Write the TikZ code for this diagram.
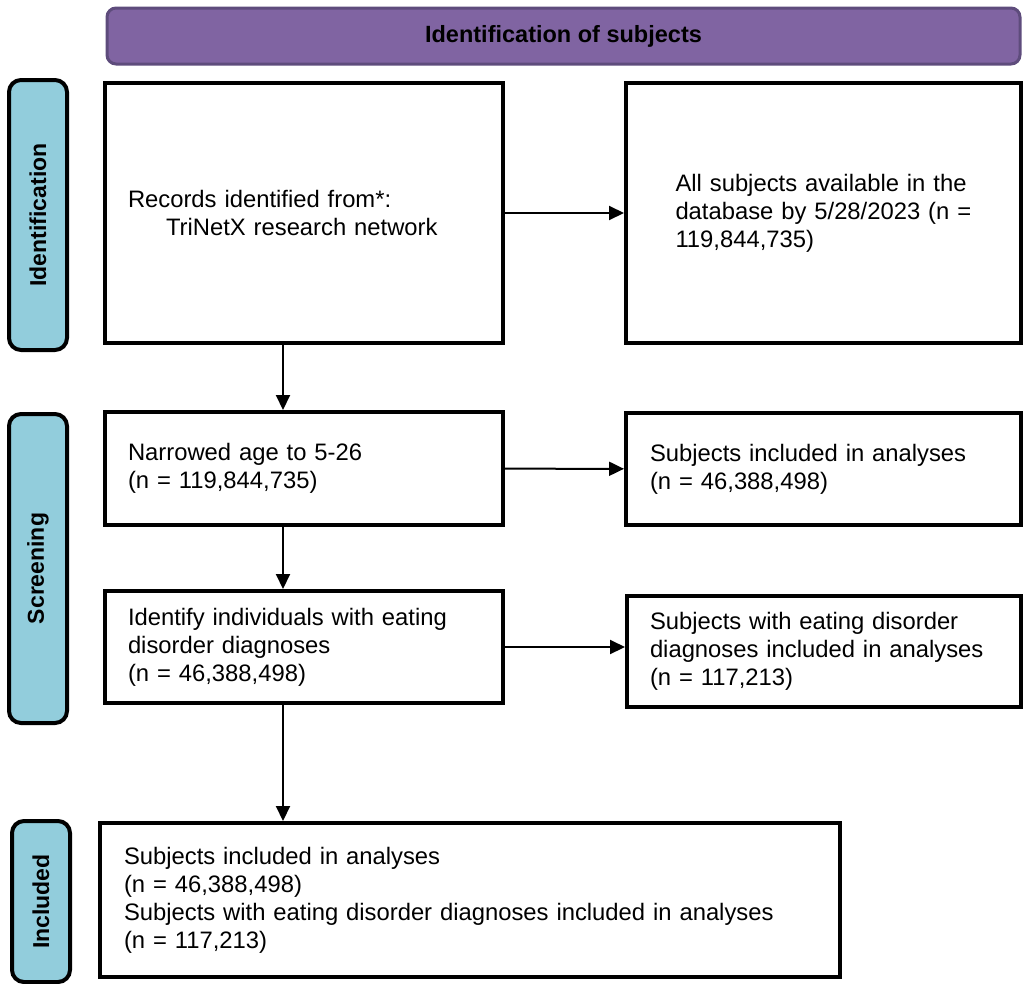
\documentclass[tikz,border=0pt]{standalone}
\usepackage{fontspec}
\setmainfont{Liberation Sans}
\usetikzlibrary{arrows.meta}
\definecolor{headpurple}{RGB}{128, 100, 162}
\definecolor{headedge}{RGB}{94, 76, 124}
\definecolor{phaseblue}{RGB}{146, 205, 220}

\begin{document}
\begin{tikzpicture}[x=1pt, y=-1pt]
    \tikzstyle{phase} = [rectangle, rounded corners=12pt, draw=black, line width=4pt,
                         fill=phaseblue, rotate=90, minimum height=58pt,
                         font=\fontsize{23}{27}\selectfont\bfseries]
    \tikzstyle{box} = [rectangle, draw=black, line width=4pt, align=left,
                       inner sep=0pt, font=\fontsize{23.8}{28}\selectfont]
    \tikzstyle{arr} = [-{Triangle[length=15pt, width=14pt]}, line width=2pt]

    \useasboundingbox (0,0) rectangle (1027,983);

    \node[rectangle, rounded corners=9pt, fill=headpurple, draw=headedge, line width=3pt,
          minimum width=913pt, minimum height=56pt,
          font=\fontsize{23.5}{28}\selectfont\bfseries] (head) at (563.5,36)
          {Identification of subjects};

    \node[phase, minimum width=270pt] (idphase)  at (38,215)    {Identification};
    \node[phase, minimum width=309pt] (scrphase) at (38,568.5)  {Screening};
    \node[phase, minimum width=161pt] (incphase) at (41,901.5)  {Included};

    \node[box, minimum width=398pt, minimum height=260pt, text width=352pt] (records) at (304,213)
          {Records identified from*:\\\hspace*{38pt}TriNetX research network};
    \node[box, minimum width=395pt, minimum height=260pt, text width=296pt] (pool) at (823.5,213)
          {All subjects available in the\\database by 5/28/2023 (n =\\119,844,735)};
    \node[box, minimum width=398pt, minimum height=113pt, text width=352pt] (age) at (304,468.5)
          {Narrowed age to 5-26\\(n = 119,844,735)};
    \node[box, minimum width=395pt, minimum height=112pt, text width=347pt] (ageout) at (823.5,469)
          {Subjects included in analyses\\(n = 46,388,498)};
    \node[box, minimum width=398pt, minimum height=112pt, text width=352pt] (eat) at (304,647)
          {Identify individuals with eating\\disorder diagnoses\\(n = 46,388,498)};
    \node[box, minimum width=394pt, minimum height=111pt, text width=348pt] (eatout) at (824,651)
          {Subjects with eating disorder\\diagnoses included in analyses\\(n = 117,213)};
    \node[box, minimum width=740pt, minimum height=154pt, text width=692pt] (final) at (470,900)
          {Subjects included in analyses\\(n = 46,388,498)\\Subjects with eating disorder diagnoses included in analyses\\(n = 117,213)};

    \coordinate (trunk) at (283,0);

    \draw[arr] (records) -- (pool);
    \draw[arr] (age) -- (ageout);
    \draw[arr] (eat.east) -- (eat.east -| eatout.west);
    \draw[arr] (records.south -| trunk) -- (age.north -| trunk);
    \draw[arr] (age.south -| trunk) -- (eat.north -| trunk);
    \draw[arr] (eat.south -| trunk) -- (final.north -| trunk);
\end{tikzpicture}
\end{document}
